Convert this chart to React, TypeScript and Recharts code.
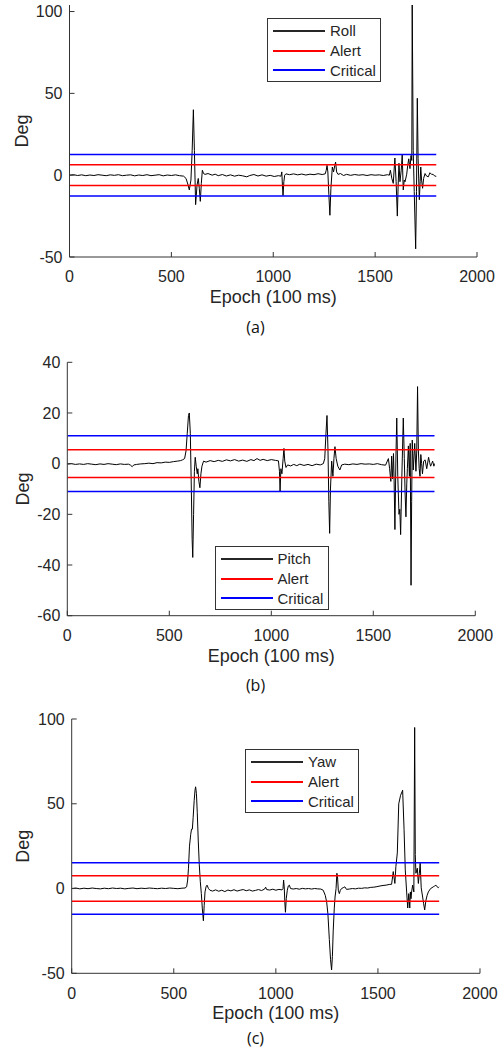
import React from 'react';
import { LineChart, Line, XAxis, YAxis, Legend } from 'recharts';

// ---------- shared axis values ----------
const epochTicks = [0, 500, 1000, 1500, 2000];
const epochDomain = [0, 2000];
const thresholdSpan = [0, 1800];

// ---------- (a) Roll ----------
const rollEpochs = [
  0, 20, 40, 60, 80, 100, 120, 140, 160, 180, 200, 220, 240, 260, 280, 300, 320, 340, 360, 380,
  400, 420, 440, 460, 480, 500, 520, 540, 560, 572, 582, 588, 596, 602, 608, 613, 619, 626, 632, 637,
  642, 647, 652, 658, 665, 680, 700, 715, 730, 750, 770, 790, 810, 830, 850, 870, 885, 905, 925, 945,
  965, 985, 1005, 1025, 1038, 1042, 1045, 1048, 1052, 1056, 1062, 1080, 1100, 1120, 1140, 1160, 1180, 1200, 1220, 1240,
  1255, 1260, 1264, 1268, 1273, 1278, 1283, 1290, 1296, 1302, 1306, 1311, 1318, 1330, 1345, 1360, 1380, 1400, 1420, 1440,
  1460, 1480, 1500, 1520, 1540, 1560, 1570, 1575, 1582, 1589, 1597, 1603, 1609, 1613, 1617, 1622, 1628, 1633, 1638, 1643,
  1647, 1655, 1660, 1665, 1671, 1676, 1680, 1682, 1687, 1692, 1699, 1703, 1707, 1711, 1717, 1721, 1724, 1728, 1733, 1738,
  1745, 1752, 1761, 1769, 1777, 1785, 1792, 1800,
];
const rollValues = [
  0, 0.3, -0.2, 0.2, -0.3, 0.1, -0.2, 0.3, 0, -0.3, 0.2, -0.1, 0.3, -0.3, 0, 0.2, -0.4, 0.1, -0.2, 0.3,
  -0.3, 0, 0.3, -0.4, 0.1, -0.2, 0.2, -0.3, -0.6, -2, -6, -9, -3, 15, 40, 15, -18, -6, -2, -8,
  -16, -5, 3, 1, 0.5, 1, 0, 0.6, -0.3, 0.4, -0.5, 0.2, -0.6, 0, -0.4, -1, -0.2, 0.4, -0.5, 0.2,
  -0.6, -0.1, -0.8, -0.3, -0.6, 2, -6, -12.5, -4, 0, 0.8, 0.3, 0.8, 0.2, 0.7, 0.1, 0.6, 0.3, 0.9, 0.4,
  0.8, 3, 6, 2, -12, -24.5, -8, 5, 2, 6, 8, 2, 0.5, 1, -0.2, 0.5, -0.1, 0.4, 0, 0.3,
  -0.2, 0.3, 0, 0.2, -0.2, 0.3, 0, 3, -2, -5, 10.5, -4, -25, -6, 7.3, -4, 3, 12.4, -9, -3,
  -4, 0.6, 6, 10, 4, 12, 9, 104, 15, -10, -45, -10, 47, 10, -15, -4, 5, -3, -8, -2,
  1, -0.5, -1, 1.5, 0.5, 0.5, -0.5, -0.7,
];
const rollAlert = 6.3;
const rollCritical = 12.7;
const rollDomain = [-50, 104];
const rollTicks = [-50, 0, 50, 100];

// ---------- (b) Pitch ----------
const pitchEpochs = [
  0, 20, 40, 60, 80, 100, 120, 140, 160, 180, 200, 220, 240, 260, 280, 300, 310, 318, 326, 340,
  360, 380, 400, 420, 440, 460, 480, 500, 520, 540, 555, 565, 575, 582, 588, 594, 598, 603, 608, 612,
  615, 619, 623, 627, 632, 637, 640, 645, 650, 655, 660, 668, 680, 700, 720, 740, 760, 780, 800, 820,
  840, 860, 880, 900, 915, 930, 945, 960, 980, 1000, 1020, 1035, 1040, 1043, 1047, 1052, 1058, 1062, 1066, 1072,
  1080, 1095, 1110, 1125, 1140, 1160, 1180, 1200, 1220, 1240, 1255, 1262, 1268, 1273, 1278, 1282, 1286, 1290, 1296, 1302,
  1307, 1312, 1318, 1326, 1336, 1345, 1360, 1380, 1400, 1420, 1440, 1460, 1480, 1500, 1520, 1540, 1560, 1574, 1580, 1586,
  1590, 1594, 1599, 1602, 1606, 1611, 1615, 1620, 1626, 1630, 1634, 1640, 1647, 1652, 1656, 1660, 1664, 1667, 1672, 1677,
  1681, 1685, 1688, 1691, 1696, 1703, 1709, 1713, 1717, 1721, 1725, 1729, 1733, 1737, 1741, 1747, 1754, 1762, 1771, 1776,
  1781, 1786, 1791, 1797, 1800,
];
const pitchValues = [
  -0.2, 0, -0.3, -0.1, -0.3, 0, -0.2, -0.4, -0.1, -0.3, 0, -0.2, -0.4, -0.1, -0.3, -0.2, -0.6, -1.2, -0.5, -0.3,
  -0.1, 0, 0.2, 0, 0.4, 0.3, 0.6, 0.5, 0.8, 1, 1.2, 1.5, 2, 5, 12, 19, 20, 12, -10, -30,
  -37, -20, -3, 2.5, -1, -4, -2, -7, -9.5, -4, -1, 1, 0.6, 1.2, 0.8, 1.3, 0.9, 1.5, 1.1, 1.6,
  1, 1.4, 0.9, 1.6, 1.2, 2, 1.3, 1.7, 1.2, 1.6, 1.3, 1.1, -3, -11, -2, -4, 2, 6, 1, -1.5,
  -0.5, -0.9, -0.3, -0.8, -0.2, -0.7, -0.3, -0.8, -0.2, -0.5, 0, 2, 12, 19, 5, -15, -27.5, -10, 1, -5,
  2, 6.7, 2, -1, -2.5, -0.5, -0.2, -0.4, -0.1, -0.3, 0, -0.2, -0.1, -0.3, 0, -0.4, -0.6, 2, -2, -7,
  3, -6, 4, -6.5, -26, 3, 18, -5, -20, -18, -28, -5, 18, 2, -12, -21, -8, -2, 7, -5,
  8, -48, -15, 9.3, -2.5, 8, -3, 5, 30.4, 5, -2, -5, 3.6, 0, -4, 1, 1.5, -2, 2.5, 0.5,
  -1, 0, 1, -1, 0,
];
const pitchAlert = 5.5;
const pitchCritical = 11;
const pitchDomain = [-60, 40];
const pitchTicks = [-60, -40, -20, 0, 20, 40];

// ---------- (c) Yaw ----------
const yawEpochs = [
  0, 20, 40, 60, 80, 100, 120, 140, 160, 180, 200, 220, 240, 260, 280, 300, 320, 340, 360, 380,
  400, 420, 440, 460, 480, 500, 520, 540, 555, 563, 568, 572, 577, 583, 587, 591, 595, 600, 604, 607,
  611, 615, 620, 625, 630, 635, 640, 645, 649, 653, 658, 663, 670, 677, 690, 705, 720, 735, 750, 765,
  780, 795, 810, 825, 840, 855, 870, 885, 900, 915, 930, 945, 950, 955, 970, 985, 1000, 1015, 1030, 1035,
  1038, 1041, 1044, 1047, 1051, 1056, 1061, 1066, 1072, 1085, 1100, 1115, 1130, 1145, 1160, 1175, 1190, 1205, 1220, 1232,
  1242, 1249, 1255, 1262, 1268, 1273, 1277, 1281, 1286, 1290, 1295, 1299, 1302, 1306, 1311, 1316, 1322, 1330, 1338, 1346,
  1360, 1375, 1390, 1405, 1420, 1435, 1450, 1465, 1480, 1495, 1510, 1525, 1540, 1555, 1567, 1575, 1583, 1588, 1595, 1602,
  1611, 1618, 1621, 1628, 1634, 1641, 1646, 1651, 1656, 1659, 1662, 1665, 1670, 1676, 1680, 1683, 1686, 1693, 1698, 1703,
  1707, 1712, 1719, 1724, 1729, 1735, 1741, 1747, 1758, 1765, 1771, 1778, 1784, 1790, 1796, 1800,
];
const yawValues = [
  0, 0.3, -0.2, 0.2, -0.1, 0.3, 0, -0.2, 0.2, -0.1, 0.3, 0, 0.2, -0.2, 0.1, 0.3, -0.1, 0.2, 0, 0.3,
  0.1, -0.1, 0.2, 0, 0.3, 0.1, -0.1, 0.2, 0.3, 1, 5, 12, 25, 32, 35, 35, 42, 52, 58, 60,
  56, 45, 28, 14, 4, -3, -12, -19, -10, -2, 1, 2, 0, -1, -1.5, -0.8, -1.6, -1, -1.8, -0.9,
  -1.4, -0.7, -1.5, -1, -0.6, -1.3, -0.8, -1.5, -1.1, -0.6, -1.2, -0.3, 0.8, -0.6, -0.9, -0.4, -1, -0.5, -0.8, -0.2,
  5, 1, -8, -14, -6, -1, 1.5, 2, 0, -0.3, 0, -0.4, 0.1, -0.2, 0, -0.3, 0, -0.2, -0.3, -1,
  -4, -8, -15, -30, -42, -48, -40, -25, -12, -5, 0, 9, 7, -1, -3, -1, 0, 0.5, 1, -0.5,
  -0.3, 0, -0.2, 0.2, 0.1, 0.4, 0.3, 0.7, 0.8, 1.1, 1.5, 1.8, 2, 2.4, 2.5, 10, 3, 13, 21, 50,
  55, 57, 58, 35, 11, -2.6, -11.5, -3, -11.5, -2, -6, -2, 2, -2, 95, 20, 9, 12, 3, 9,
  15, 0.4, -5, -9, -12.6, -7, -4, -2, 0, 0.5, 1, 1.5, 2, 1, 0.5, 1,
];
const yawAlert = 7.5;
const yawCritical = 15.2;
const yawDomain = [-50, 100];
const yawTicks = [-50, 0, 50, 100];

// ---------- helpers ----------
const toPoints = (xs: number[], ys: number[]) => xs.map((x, i) => ({ x, signal: ys[i] }));
const level = (key: string, v: number) => thresholdSpan.map((x) => ({ x, [key]: v }));

type Series = { key: string; name: string; color: string; width: number; data: any[]; legend: boolean };
const buildSeries = (name: string, xs: number[], ys: number[], alert: number, critical: number): Series[] => [
  { key: 'signal', name, color: '#000000', width: 1, data: toPoints(xs, ys), legend: true },
  { key: 'alertHigh', name: 'Alert', color: '#ff0000', width: 1.5, data: level('alertHigh', alert), legend: true },
  { key: 'alertLow', name: 'Alert (low)', color: '#ff0000', width: 1.5, data: level('alertLow', -alert), legend: false },
  { key: 'criticalHigh', name: 'Critical', color: '#0000ff', width: 1.5, data: level('criticalHigh', critical), legend: true },
  { key: 'criticalLow', name: 'Critical (low)', color: '#0000ff', width: 1.5, data: level('criticalLow', -critical), legend: false },
];

const rollSeries = buildSeries('Roll', rollEpochs, rollValues, rollAlert, rollCritical);
const pitchSeries = buildSeries('Pitch', pitchEpochs, pitchValues, pitchAlert, pitchCritical);
const yawSeries = buildSeries('Yaw', yawEpochs, yawValues, yawAlert, yawCritical);

const FONT = '"Liberation Sans", Arial, sans-serif';
const AXIS = '#333333';
const TEXT = '#262626';

const LegendBox = ({ series }: { series: Series[] }) => {
  const items = series.filter((s) => s.legend);
  return (
    <div
      style={{
        width: 114,
        height: 64,
        boxSizing: 'border-box',
        border: `1px solid ${AXIS}`,
        background: '#fff',
        paddingTop: 2,
        paddingLeft: 5,
        fontFamily: FONT,
        fontSize: 15,
        color: TEXT,
      }}
    >
      {items.map((s) => (
        <div key={s.key} style={{ display: 'flex', alignItems: 'center', height: 19.7 }}>
          <div style={{ width: 52, height: 2, background: s.color, opacity: s.key === 'signal' ? 0.85 : 1 }} />
          <span style={{ marginLeft: 5, lineHeight: '17px' }}>{s.name}</span>
        </div>
      ))}
    </div>
  );
};

type PanelProps = {
  id: string;
  series: Series[];
  domain: number[];
  ticks: number[];
  top: number;
  mTop: number;
  plotH: number;
  left: number;
  right: number;
  legendLeft: number;
  legendTop: number;
  degX: number;
  caption: string;
  captionY: number;
};

const Panel = (p: PanelProps) => {
  const xAxisH = 55;
  const height = p.mTop + p.plotH + xAxisH;
  const plotW = 503 - p.left - p.right;
  const plotBottom = p.mTop + p.plotH;
  return (
    <>
      <div style={{ position: 'absolute', left: 0, top: p.top, width: 503, height }}>
        <LineChart
          id={p.id}
          width={503}
          height={height}
          margin={{ top: p.mTop, right: p.right, left: 0, bottom: 0 }}
        >
          <XAxis
            xAxisId="b"
            dataKey="x"
            type="number"
            orientation="bottom"
            domain={epochDomain}
            ticks={epochTicks}
            height={xAxisH}
            allowDataOverflow
            stroke={AXIS}
            tickSize={-5}
            tickMargin={19}
            tick={{ fontSize: 16, fill: TEXT, fontFamily: FONT }}
            label={() => (
              <text
                x={p.left + plotW / 2}
                y={plotBottom + 46}
                textAnchor="middle"
                fontSize={18}
                fontFamily={FONT}
                fill={TEXT}
              >
                Epoch (100 ms)
              </text>
            )}
          />
          <XAxis
            xAxisId="t"
            dataKey="x"
            type="number"
            orientation="top"
            domain={epochDomain}
            ticks={epochTicks}
            height={0}
            stroke={AXIS}
            tickSize={-5}
            tick={false}
          />
          <YAxis
            yAxisId="l"
            type="number"
            domain={p.domain}
            ticks={p.ticks}
            width={p.left}
            allowDataOverflow
            stroke={AXIS}
            tickSize={-5}
            tickMargin={12}
            tick={{ fontSize: 16, fill: TEXT, fontFamily: FONT }}
            label={() => (
              <text
                x={p.degX}
                y={p.mTop + p.plotH / 2}
                transform={`rotate(-90 ${p.degX} ${p.mTop + p.plotH / 2})`}
                textAnchor="middle"
                dominantBaseline="central"
                fontSize={18}
                fontFamily={FONT}
                fill={TEXT}
              >
                Deg
              </text>
            )}
          />
          <YAxis
            yAxisId="r"
            type="number"
            orientation="right"
            domain={p.domain}
            ticks={p.ticks}
            width={0}
            allowDataOverflow
            stroke={AXIS}
            tickSize={-5}
            tick={false}
          />
          <Legend
            layout="vertical"
            align="center"
            verticalAlign="middle"
            wrapperStyle={{ left: p.legendLeft, top: p.legendTop, width: 114, height: 64 }}
            content={() => <LegendBox series={p.series} />}
          />
          {p.series.map((s) => (
            <Line
              key={s.key}
              id={`${p.id}-${s.key}`}
              xAxisId="b"
              yAxisId="l"
              data={s.data}
              dataKey={s.key}
              name={s.name}
              stroke={s.color}
              strokeWidth={s.width}
              dot={false}
              activeDot={false}
              legendType={s.legend ? 'line' : 'none'}
              isAnimationActive={false}
            />
          ))}
        </LineChart>
      </div>
      <div
        style={{
          position: 'absolute',
          left: 0,
          width: 511,
          top: p.captionY - 11,
          height: 22,
          lineHeight: '22px',
          textAlign: 'center',
          fontFamily: '"Open Sans", sans-serif',
          fontSize: 16,
          color: '#111',
        }}
      >
        {p.caption}
      </div>
    </>
  );
};

export default function App() {
  return (
    <div style={{ position: 'absolute', left: 0, top: 0, width: 503, height: 1050, background: '#fff', overflow: 'hidden' }}>
      <Panel
        id="roll"
        series={rollSeries}
        domain={rollDomain}
        ticks={rollTicks}
        top={0}
        mTop={5}
        plotH={252}
        left={69.5}
        right={26}
        legendLeft={267}
        legendTop={18}
        degX={21.7}
        caption="(a)"
        captionY={327}
      />
      <Panel
        id="pitch"
        series={pitchSeries}
        domain={pitchDomain}
        ticks={pitchTicks}
        top={340}
        mTop={22.3}
        plotH={253.4}
        left={67.3}
        right={27.7}
        legendLeft={214.5}
        legendTop={206}
        degX={23.3}
        caption="(b)"
        captionY={685}
      />
      <Panel
        id="yaw"
        series={yawSeries}
        domain={yawDomain}
        ticks={yawTicks}
        top={700}
        mTop={19}
        plotH={254.3}
        left={71.7}
        right={23}
        legendLeft={245}
        legendTop={49}
        degX={23.3}
        caption="(c)"
        captionY={1038}
      />
    </div>
  );
}
